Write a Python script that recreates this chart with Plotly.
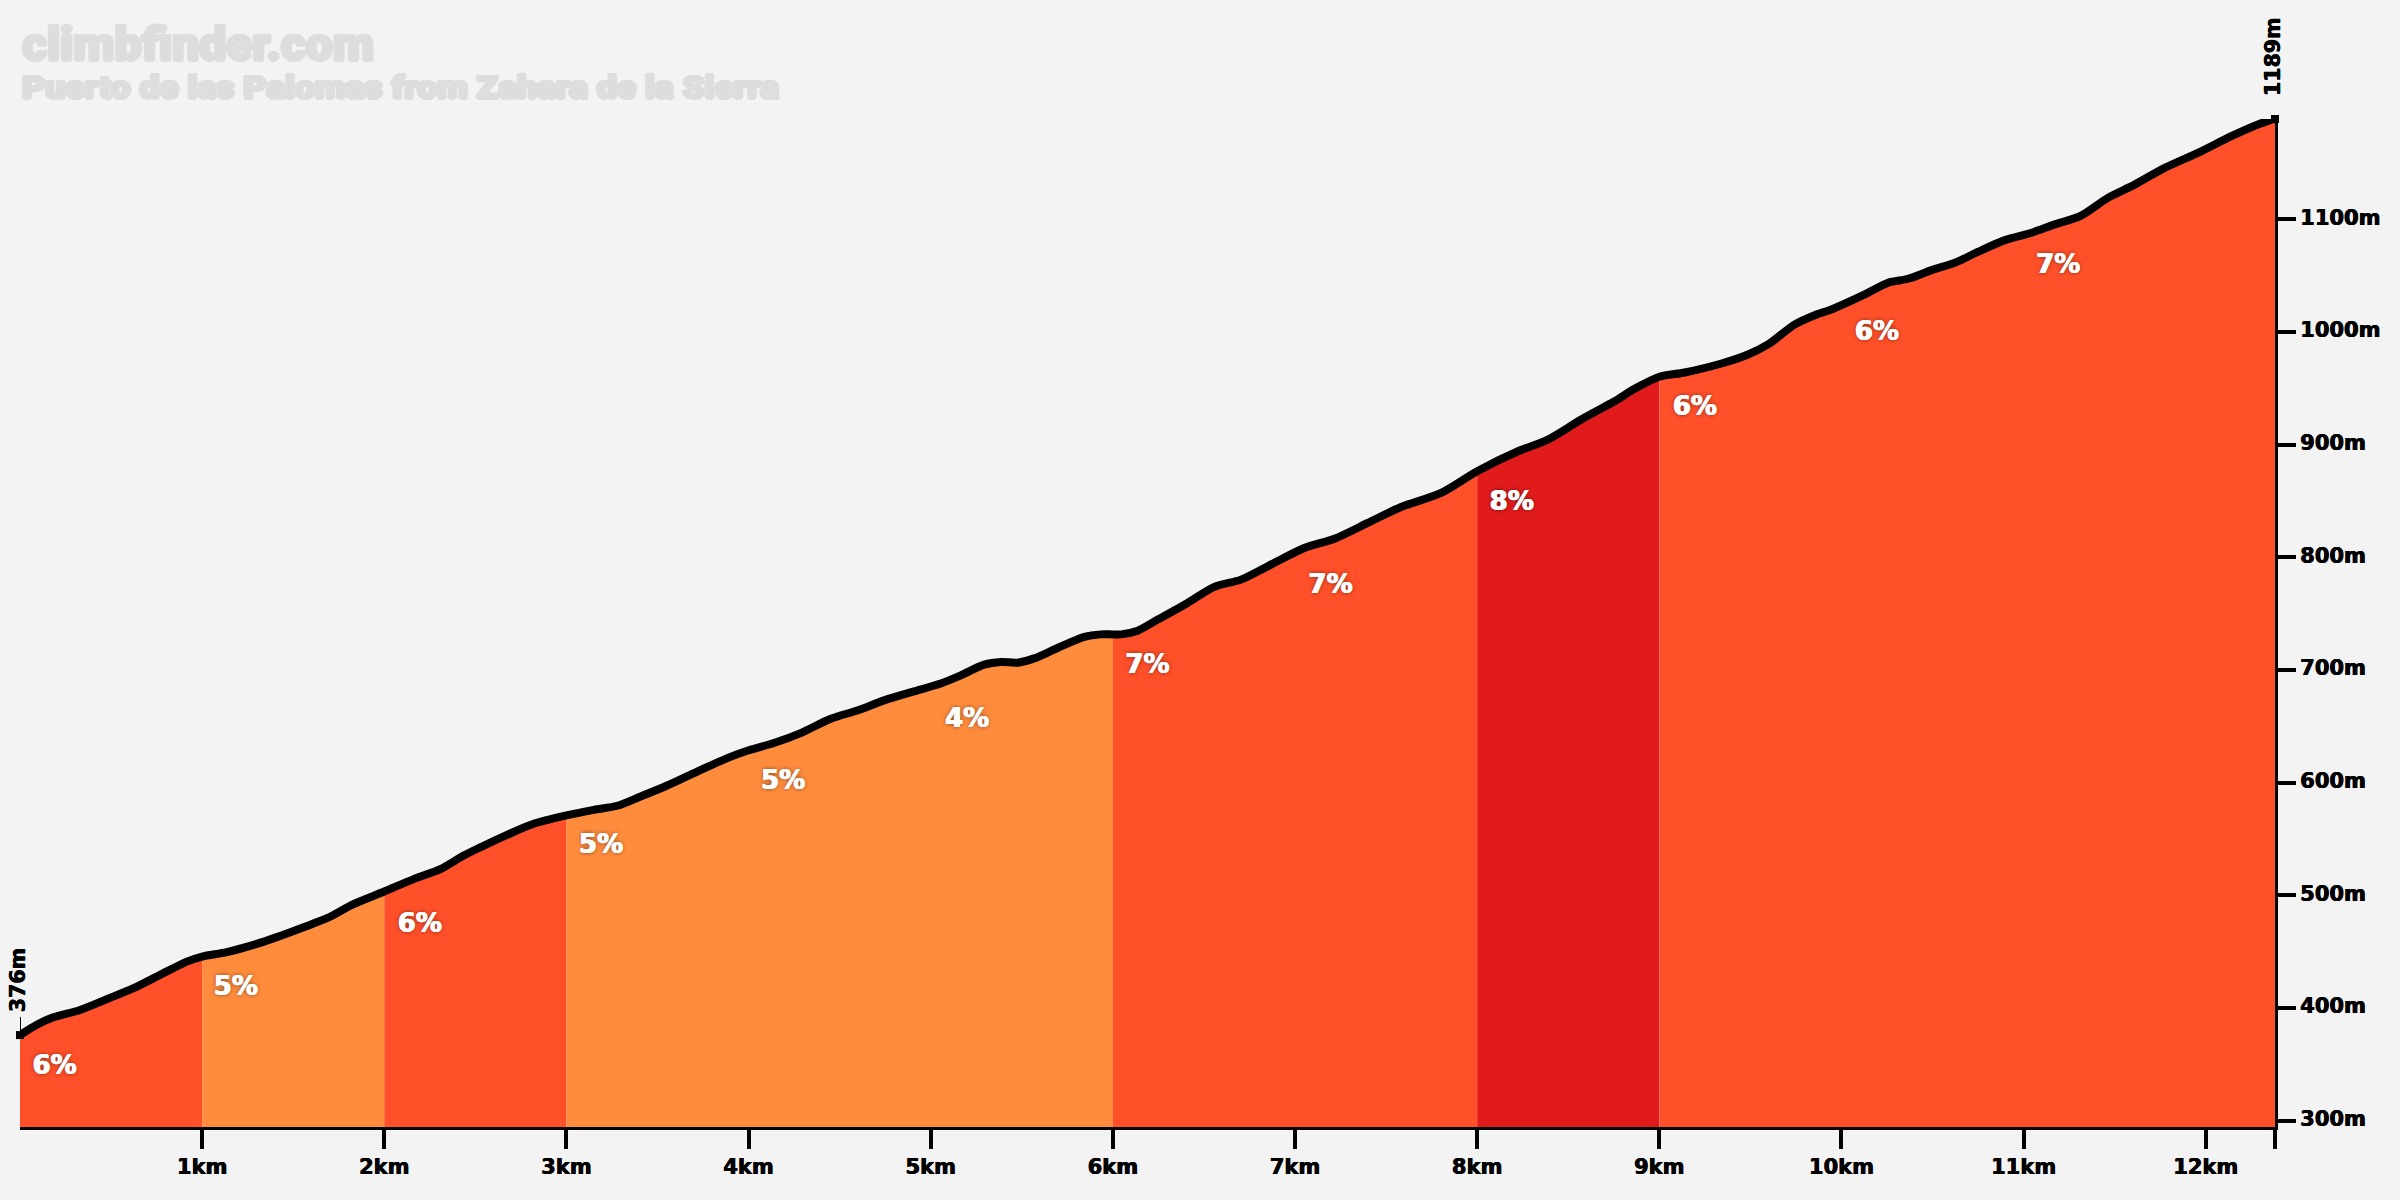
import plotly.graph_objects as go

km = [0, .09, .183, .33, .476, .623, .769, .916, 1.0, 1.135, 1.282, 1.41, 1.557, 1.685, 1.831, 2.0,
      2.161, 2.308, 2.436, 2.527, 2.674, 2.82, 3.0, 3.15, 3.279, 3.407, 3.553, 3.7, 3.883, 3.993,
      4.139, 4.286, 4.451, 4.597, 4.744, 4.908, 5.055, 5.165, 5.293, 5.385, 5.476, 5.568, 5.696,
      5.843, 5.934, 6.0, 6.044, 6.136, 6.246, 6.41, 6.557, 6.703, 6.85, 7.051, 7.216, 7.399, 7.582,
      7.802, 8.0, 8.224, 8.388, 8.571, 8.754, 8.864, 9.0, 9.139, 9.341, 9.487, 9.597, 9.744, 9.853,
      9.945, 10.128, 10.256, 10.366, 10.495, 10.623, 10.751, 10.897, 11.044, 11.172, 11.31, 11.465,
      11.612, 11.777, 11.96, 12.143, 12.29, 12.35, 12.38]
elev = [376, 385, 391.8, 398.3, 407.8, 417.6, 429.4, 441.2, 445.7, 449.6, 456, 462.9, 471.7, 479.7, 492.2, 503.4,
        514.4, 523.3, 535.3, 542.6, 553.7, 563.5, 570.9, 575.9, 579.5, 587.7, 597.5, 608.5, 621.8, 628.3,
        635.2, 644, 656.7, 664.1, 673, 681, 688, 695.2, 704.7, 707.1, 706.5, 710.3, 719.5,
        729.3, 731.6, 731.6, 731.6, 734.9, 744.7, 759.5, 773.7, 780.2, 792, 808.3, 816.4, 830.5, 844.6,
        857.2, 876.4, 894.1, 904.5, 922.3, 938.5, 949.5, 960.2, 964, 972, 980, 988.9, 1006.7, 1014.9,
        1020, 1033.3, 1043.7, 1047.2, 1054.9, 1061.4, 1071.2, 1081.5, 1088.1, 1095.5, 1102.8, 1119.2,
        1131, 1145.8, 1159.2, 1174, 1184.4, 1187.8, 1189]

segment_starts = [0, 1, 2, 3, 6, 8, 9]
segment_ends = [1, 2, 3, 6, 8, 9, 12.38]
segment_colors = ["#FF5029", "#FF8C3D", "#FF5029", "#FF8C3D", "#FF5029", "#E11B1B", "#FF5029"]

label_x = [0.19, 1.185, 2.195, 3.19, 4.19, 5.2, 6.19, 7.195, 8.19, 9.195, 10.195, 11.19]
label_y = [347, 417.5, 473.5, 543, 600.5, 655.5, 703.5, 774, 847.5, 932, 998.5, 1058]
label_text = ["6%", "5%", "6%", "5%", "5%", "4%", "7%", "7%", "8%", "6%", "6%", "7%"]

x_tickvals = [1, 2, 3, 4, 5, 6, 7, 8, 9, 10, 11, 12, 12.38]
x_ticktext = ["1km", "2km", "3km", "4km", "5km", "6km", "7km", "8km", "9km", "10km", "11km", "12km", ""]
y_tickvals = [300, 400, 500, 600, 700, 800, 900, 1000, 1100]
y_ticktext = ["300m", "400m", "500m", "600m", "700m", "800m", "900m", "1000m", "1100m"]

FONT = "DejaVu Sans"
BG = "#F3F3F3"
black_heavy = "0.4px 0 0 #000,-0.4px 0 0 #000"

fig = go.Figure()
for s, e, c in zip(segment_starts, segment_ends, segment_colors):
    xs = [k for k in km if s <= k <= e]
    ys = [v for k, v in zip(km, elev) if s <= k <= e]
    fig.add_trace(go.Scatter(x=xs, y=ys, mode="lines", line=dict(width=0), fill="tozeroy",
                             fillcolor=c, showlegend=False, hoverinfo="skip"))

fig.add_trace(go.Scatter(x=km, y=elev, mode="lines", cliponaxis=False, showlegend=False,
                         line=dict(color="black", width=8, shape="spline", smoothing=0.8)))
fig.add_trace(go.Scatter(x=[km[0], km[-1]], y=[elev[0], elev[-1]], mode="markers", cliponaxis=False,
                         showlegend=False,
                         marker=dict(symbol="square", size=8, color="black", line=dict(width=0))))
fig.add_trace(go.Scatter(x=label_x, y=label_y, text=label_text, mode="text", textposition="middle center",
                         cliponaxis=False, showlegend=False,
                         textfont=dict(family=FONT, size=26, weight=800, color="white",
                                       shadow="0.6px 0 0 #fff,-0.6px 0 0 #fff,0px 0px 4px rgba(0,0,0,0.55)")))

stroke = ",".join(f"{a}px {b}px 0 #DDDDDD" for a, b in
                  [(1.5, 0), (-1.5, 0), (0, 1.5), (0, -1.5), (1, 1), (-1, -1), (1, -1), (-1, 1)])
annotations = [
    dict(text="climbfinder.com", xref="paper", yref="paper", x=0, y=1, xanchor="left", yanchor="bottom",
         yshift=46, showarrow=False, font=dict(family="Roboto", size=46, weight=900,
                                               color="#DDDDDD", shadow=stroke)),
    dict(text="Puerto de las Palomas from Zahara de la Sierra", xref="paper", yref="paper", x=0, y=1,
         xanchor="left", yanchor="bottom", yshift=11, showarrow=False,
         font=dict(family="Roboto", size=31, weight=900, color="#DDDDDD", shadow=stroke)),
    dict(text="376m", x=km[0], y=elev[0], xref="x", yref="y", textangle=-90, showarrow=False, xanchor="center",
         yanchor="bottom", xshift=-2, yshift=21,
         font=dict(family=FONT, size=20.5, weight=700, color="black", shadow=black_heavy)),
    dict(text="1189m", x=km[-1], y=elev[-1], xref="x", yref="y", textangle=-90, showarrow=False, xanchor="center",
         yanchor="bottom", xshift=-2, yshift=21,
         font=dict(family=FONT, size=20.5, weight=700, color="black", shadow=black_heavy)),
]
shapes = [
    dict(type="line", xref="x", yref="y", ysizemode="pixel", yanchor=elev[0], x0=km[0], x1=km[0], y0=0, y1=18,
         line=dict(color="black", width=2)),
    dict(type="line", xref="x", yref="y", ysizemode="pixel", yanchor=elev[-1], x0=km[-1], x1=km[-1], y0=0, y1=18,
         line=dict(color="black", width=2)),
]

tick_font = dict(family=FONT, size=21, weight=700, color="black", shadow=black_heavy)
fig.update_layout(
    width=2400, height=1200, paper_bgcolor=BG, plot_bgcolor=BG, showlegend=False,
    margin=dict(l=20, r=125, t=119, b=73), annotations=annotations, shapes=shapes,
    font=dict(family=FONT, color="black"),
    xaxis=dict(range=[0, 12.38], tickvals=x_tickvals, ticktext=x_ticktext, ticks="outside", ticklen=19,
               tickwidth=4, tickcolor="black", showline=True, linecolor="black", linewidth=3, showgrid=False,
               zeroline=False, tickangle=0, tickfont=tick_font),
    yaxis=dict(range=[294.4, 1189], side="right", tickvals=y_tickvals, ticktext=y_ticktext, ticks="outside",
               ticklen=18, tickwidth=4, tickcolor="black", showline=True, linecolor="black", linewidth=3,
               showgrid=False, zeroline=False, ticklabelshift=-2, tickfont=tick_font),
)
squeeze = """
document.body.style.margin='0';
var widths={'climbfinder.com':352,'Puerto de las Palomas from Zahara de la Sierra':757};
document.querySelectorAll('text.annotation-text').forEach(function(t){
  var w=widths[t.textContent];
  if(w){
    var b=t.getBBox();
    t.style.textAnchor='start';
    t.setAttribute('x',b.x);
    t.setAttribute('textLength',w);
    t.setAttribute('lengthAdjust','spacingAndGlyphs');
  }
});
"""
fig.write_html("out.html", post_script=squeeze, config={"displayModeBar": False})
